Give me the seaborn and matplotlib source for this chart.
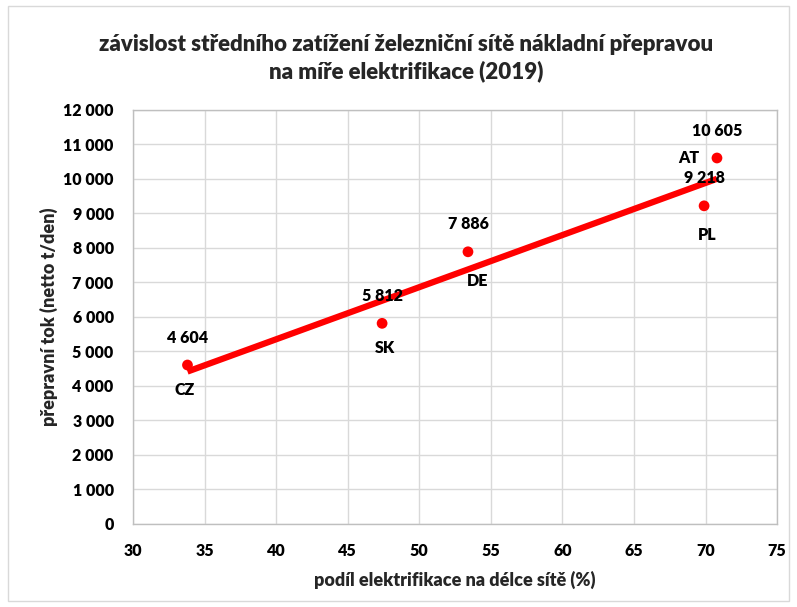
import seaborn as sns
import matplotlib.pyplot as plt
import matplotlib.patches as patches
import pandas as pd

# staty, podil elektrifikace (%) a prepravni tok (netto t/den)
zeme = ['CZ', 'SK', 'DE', 'PL', 'AT']
elektrifikace = [33.8, 47.4, 53.4, 69.9, 70.8]
tok = [4604, 5812, 7886, 9218, 10605]

x_ticks = [30, 35, 40, 45, 50, 55, 60, 65, 70, 75]
y_ticks = [0, 1000, 2000, 3000, 4000, 5000, 6000, 7000, 8000, 9000, 10000, 11000, 12000]

df = pd.DataFrame({'zeme': zeme, 'elektrifikace': elektrifikace, 'tok': tok})

sns.set_style('white')
plt.rcParams['font.family'] = ['Lato', 'DejaVu Sans']
W = 'heavy'

fig = plt.figure(figsize=(7.97, 6.07), dpi=100)
ax = fig.add_axes([0.167, 0.137, 0.808, 0.682])

# ramecek kolem celeho grafu
fig.patches.append(patches.Rectangle((0.01, 0.01), 0.98, 0.98, transform=fig.transFigure,
                                     fill=False, edgecolor='#d9d9d9', linewidth=1))

sns.scatterplot(data=df, x='elektrifikace', y='tok', color='#ff0000', s=60,
                edgecolor='none', ax=ax, zorder=3)
sns.regplot(data=df, x='elektrifikace', y='tok', ci=None, scatter=False, truncate=True,
            line_kws={'color': '#ff0000', 'linewidth': 4.5, 'solid_capstyle': 'butt'}, ax=ax)

# popisky: hodnota nad bodem, zeme pod bodem (AT vlevo)
pos_zeme = {'CZ': (-2, -18), 'SK': (2, -18), 'DE': (7, -21), 'PL': (2, -21), 'AT': (-20, 0)}
for z, xv, yv in zip(zeme, elektrifikace, tok):
    ax.annotate(f'{yv:,}'.replace(',', ' '), (xv, yv), xytext=(0, 14), textcoords='offset points',
                ha='center', va='bottom', fontsize=11.5, fontweight=W, color='black')
    ax.annotate(z, (xv, yv), xytext=pos_zeme[z], textcoords='offset points',
                ha='center', va='center', fontsize=11.5, fontweight=W, color='black')

ax.set_xlim(30, 75)
ax.set_ylim(0, 12000)
ax.set_xticks(x_ticks)
ax.set_yticks(y_ticks)
ax.set_xticklabels([str(t) for t in x_ticks], fontsize=11.5, fontweight=W)
ax.set_yticklabels([f'{t:,}'.replace(',', ' ') for t in y_ticks], fontsize=11.5, fontweight=W)
ax.tick_params(axis='y', length=0, pad=14, colors='black')
ax.tick_params(axis='x', length=0, pad=14, colors='black')
ax.grid(True, color='#d9d9d9', linewidth=1)
ax.set_axisbelow(True)
for s in ax.spines.values():
    s.set_color('#bfbfbf')
    s.set_linewidth(1)

ax.set_xlabel('podíl elektrifikace na délce sítě (%)', fontsize=13, fontweight=W, labelpad=8)
ax.set_ylabel('přepravní tok (netto t/den)', fontsize=13, fontweight=W, labelpad=4)

fig.text(0.51, 0.904, 'závislost středního zatížení železniční sítě nákladní přepravou\nna míře elektrifikace (2019)',
         ha='center', va='center', fontsize=16, fontweight=W, linespacing=1.3)

plt.savefig('out.png', dpi=100)
